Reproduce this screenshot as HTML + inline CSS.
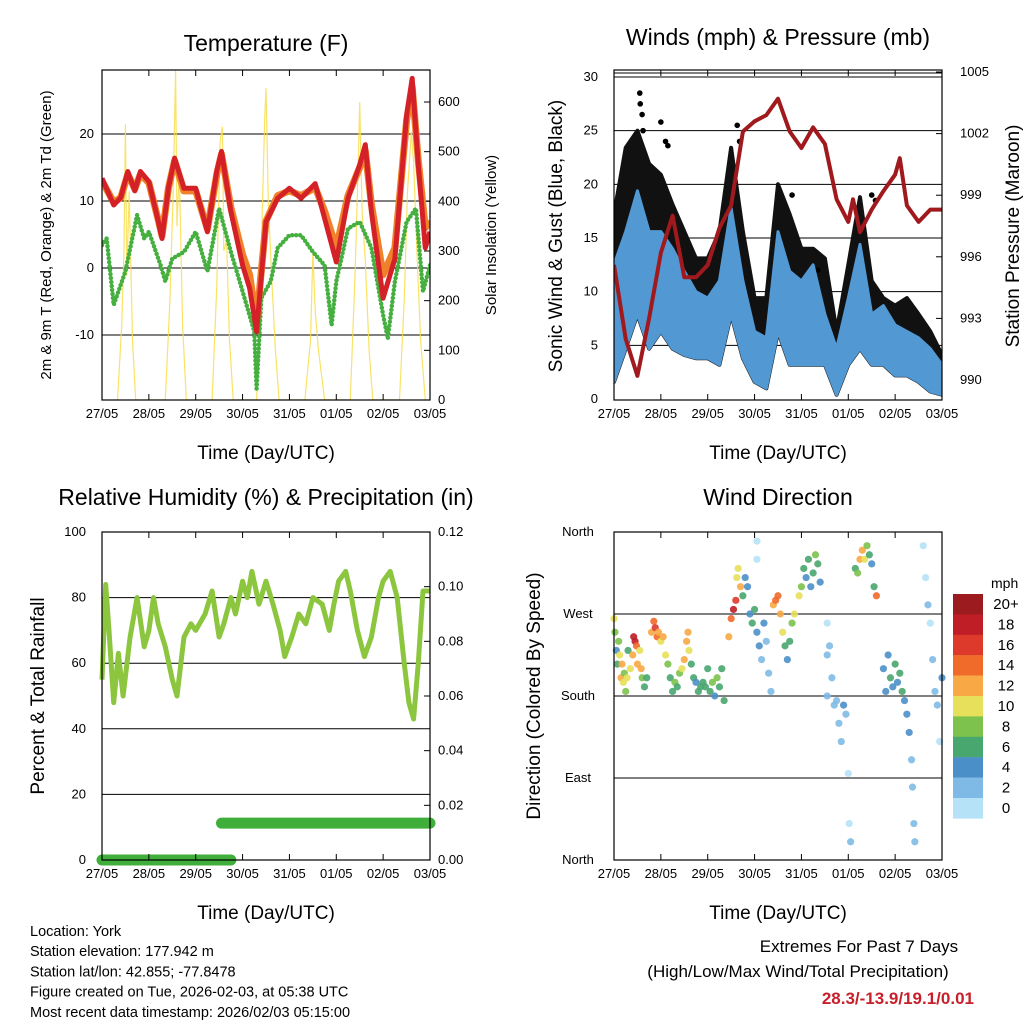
<!DOCTYPE html>
<html><head><meta charset="utf-8"><style>
html,body{margin:0;padding:0;background:#fff;}
svg{display:block;font-family:"Liberation Sans",sans-serif;}
</style></head><body>
<svg id="s" width="1024" height="1024" viewBox="0 0 1024 1024">
<rect width="1024" height="1024" fill="#fff"/>
</svg>
<script>
// ---------- DATA ----------
const dayLabels = ["27/05","28/05","29/05","30/05","31/05","01/05","02/05","03/05"];
// Temperature (F)
const tempTimes = [0,0.25,0.4,0.55,0.7,0.82,1.0,1.2,1.28,1.42,1.55,1.75,2.0,2.25,2.45,2.55,2.75,3.0,3.15,3.3,3.5,3.75,4.0,4.25,4.55,4.75,5.0,5.25,5.5,5.62,5.75,6.0,6.25,6.5,6.62,6.75,6.9,7.0];
const tempRed = [13.4,9.4,10.5,14.4,11.5,14.4,12.9,7,4.4,12,16.4,11.9,11.9,5.4,14.5,17.4,8.4,0.4,-3,-9.5,6.9,10.4,11.9,10.4,12.6,7.4,0.9,10.4,15.4,18.4,8.4,-4.5,1.4,22.8,28.3,15.4,3,5.4];
const tempOrange = [13,9.8,10.5,14,11.8,14,12.7,7.2,4.8,12,16,11.5,11.5,5.8,14,17,9,2,-1,-8,7,10.8,11.5,10.8,12,8.5,3,10.8,15,17.5,9.5,-1,3,22,27,16,6,7];
const dewTimes = [0,0.1,0.25,0.5,0.75,0.9,1.0,1.25,1.35,1.5,1.75,2.0,2.25,2.5,2.75,3.0,3.25,3.3,3.4,3.6,3.75,4.0,4.25,4.5,4.75,4.9,5.0,5.25,5.5,5.75,6.0,6.1,6.25,6.5,6.7,6.85,7.0];
const dewGreen = [3.4,4.4,-5.5,-0.5,7.9,4.4,5.4,0.4,-2,1.4,2.4,5.4,-0.5,8.9,2.4,-3.5,-9.5,-18,-4.5,-2,3,4.9,4.9,2.4,0.4,-8.5,-2,5.9,6.9,3,-7,-10.5,-2,6.9,8.9,-3.5,0.4];
// Solar insolation (W/m2)
const solarTimes = [0.33,0.42,0.47,0.5,0.53,0.58,0.65,0.72,1.35,1.45,1.52,1.57,1.6,1.65,1.72,1.8,2.35,2.45,2.52,2.57,2.6,2.66,2.72,2.8,3.3,3.4,3.47,3.5,3.55,3.62,3.7,3.78,4.33,4.45,4.5,4.55,4.62,4.75,5.3,5.4,5.47,5.5,5.55,5.62,5.7,5.78,6.35,6.45,6.52,6.6,6.65,6.72,6.8,6.9];
const solarVals = [0,150,300,555,250,420,120,0,0,200,420,665,350,460,150,0,0,230,520,550,300,320,120,0,0,300,560,628,400,250,100,0,0,120,300,180,100,0,0,250,480,600,380,280,100,0,0,200,420,540,480,300,120,0];
// Winds (mph) and pressure (mb)
const windTimes = [0,0.25,0.5,0.75,1.0,1.25,1.5,1.75,2.0,2.25,2.5,2.75,3.0,3.25,3.5,3.75,4.0,4.25,4.5,4.75,5.0,5.25,5.5,5.75,6.0,6.25,6.5,6.75,7.0];
const windHi = [12.5,15.6,19.4,15.6,15.6,14,11.9,10,9.4,11,17.8,11,6.3,5.7,15.6,11.9,11,12.5,7.9,4.7,9.4,14.4,7.9,8.7,6.9,6.3,5.7,4.7,3.2];
const windLo = [1.6,4.7,7.9,4.7,6.3,4.7,4.1,3.8,3.8,3.2,7.9,3.8,1.6,1,6.3,3.2,3.2,3.2,3.2,0.4,3.2,4.7,3.2,3.2,2.2,2.2,1.6,0.7,0.4];
const gustHi = [17.2,23.4,25,21.9,20.9,18.1,15.6,13.1,13.1,15.6,23.4,15.6,9.4,9.4,20,17.2,14,14,13.1,6.3,12.5,18.8,11,9.4,8.7,9.4,7.9,6.3,4.1];
const gustOutT = [0.55,0.56,0.6,0.62,1.0,1.1,1.15,2.63,2.68,3.8,4.35,5.5,5.58];
const gustOutV = [28.5,27.5,26.5,25,25.8,24,23.6,25.5,24,19,12,19,18.5];
const presTimes = [0,0.25,0.5,0.75,1.0,1.25,1.5,1.75,2.0,2.25,2.5,2.75,3.0,3.25,3.5,3.75,4.0,4.25,4.5,4.75,5.0,5.1,5.25,5.5,5.75,6.0,6.1,6.25,6.5,6.75,7.0];
const presVals = [995.6,992.0,990.2,993.0,996.2,998.0,995.0,995.0,995.6,997.4,998.5,1002.1,1002.6,1002.9,1003.7,1002.1,1001.3,1002.3,1001.5,998.8,997.7,998.8,997.2,998.3,999.2,1000.0,1000.8,998.5,997.7,998.3,998.3];
// Relative humidity & precipitation
const rhTimes = [0,0.08,0.15,0.25,0.35,0.45,0.6,0.75,0.9,1.0,1.1,1.2,1.35,1.5,1.6,1.75,1.9,2.0,2.2,2.35,2.5,2.6,2.75,2.85,3.0,3.1,3.2,3.35,3.5,3.65,3.8,3.9,4.05,4.2,4.35,4.5,4.7,4.85,4.95,5.05,5.2,5.3,5.45,5.6,5.75,5.9,6.0,6.15,6.3,6.45,6.55,6.65,6.75,6.85,7.0];
const rhVals = [55,84,70,48,63,50,68,80,65,70,80,72,65,55,50,68,72,70,75,82,68,72,80,75,85,80,88,78,85,78,70,62,68,75,72,80,78,70,78,85,88,82,70,62,68,80,85,88,80,60,48,43,60,82,82];
const precipTimes = [0,2.75,2.55,7.0];
const precipVals = [0,0,0.0135,0.0135];
// Wind direction (deg) colored by speed (mph)
const dirTimes = [0,0.02,0.05,0.07,0.1,0.12,0.15,0.17,0.2,0.22,0.25,0.28,0.3,0.35,0.4,0.42,0.45,0.48,0.5,0.55,0.58,0.6,0.65,0.7,0.8,0.85,0.88,0.92,0.95,1.0,1.05,1.1,1.15,1.2,1.25,1.3,1.35,1.4,1.45,1.5,1.55,1.58,1.6,1.65,1.7,1.75,1.8,1.85,1.9,1.95,2.0,2.05,2.1,2.15,2.2,2.25,2.3,2.35,2.45,2.5,2.55,2.6,2.62,2.65,2.7,2.75,2.8,2.85,2.9,2.95,3.0,3.05,3.1,3.15,3.2,3.25,3.3,3.35,3.4,3.45,3.5,3.55,3.6,3.65,3.7,3.75,3.8,3.85,3.95,4.0,4.05,4.1,4.15,4.2,4.25,4.3,4.35,4.4,4.55,4.6,4.65,4.7,4.75,4.8,4.85,4.9,4.95,5.0,5.02,5.05,5.15,5.2,5.25,5.3,5.35,5.4,5.45,5.5,5.55,5.6,5.75,5.8,5.85,5.9,5.95,6.0,6.05,6.1,6.15,6.2,6.25,6.3,6.35,6.37,6.4,6.42,6.6,6.65,6.7,6.75,6.8,6.85,6.9,6.95,7.0,3.05,3.05,4.55,4.55];
const dirVals = [265,250,230,215,240,225,200,215,195,205,185,200,230,210,225,245,240,235,215,230,210,200,190,200,250,262,255,245,250,240,245,225,215,200,185,195,190,205,210,220,240,250,230,215,200,195,185,190,195,190,210,185,195,180,200,190,210,175,245,265,275,285,310,320,300,290,310,300,270,260,275,250,235,220,260,240,205,185,280,285,290,270,250,235,220,240,260,270,290,300,320,310,330,300,315,335,325,305,225,235,200,170,175,150,130,170,160,95,40,20,320,315,330,340,330,345,335,325,300,290,210,185,225,200,190,215,195,205,185,175,160,140,110,80,40,20,345,310,280,260,220,185,170,130,200,350,330,180,260];
const dirSpeeds = [10,8,4,6,8,10,12,12,10,9,8,10,6,10,12,18,18,14,12,11,12,8,6,7,12,14,16,14,12,11,12,10,8,6,7,8,6,8,10,12,12,12,10,7,6,5,6,6,7,6,7,6,8,5,8,7,7,7,12,15,18,16,10,11,13,7,5,4,4,6,6,4,4,2,4,3,2,2,12,14,14,12,10,7,4,6,8,10,10,8,6,4,7,5,6,8,7,4,3,2,2,2,3,2,2,4,3,1,1,2,6,8,12,13,10,9,7,5,6,14,4,4,4,6,4,6,5,6,6,4,5,4,2,2,2,2,0,1,2,1,2,3,2,1,4,1,1,3,1];
const cbLabels = ["20+","18","16","14","12","10","8","6","4","2","0"];
const cbColors = ["#9b1b1e","#bf1e26","#de3a2c","#f06a2a","#f8a845","#e7e05a","#7cc24d","#48a66f","#4b8fc8","#7fbae6","#b5e2f7"];

// ---------- HELPERS ----------
const NS="http://www.w3.org/2000/svg";
const svg=document.getElementById("s");
function mk(tag,attrs,parent,text){const e=document.createElementNS(NS,tag);for(const k in attrs)e.setAttribute(k,attrs[k]);if(text!==undefined)e.textContent=text;(parent||svg).appendChild(e);return e;}
function lin(d0,d1,p0,p1){return v=>p0+(v-d0)*(p1-p0)/(d1-d0);}
function pts(ts,vs,fx,fy){return ts.map((t,i)=>fx(t).toFixed(1)+","+fy(vs[i]).toFixed(1)).join(" ");}

function frame(g,x0,x1,y0,y1,fx,name){
  // x ticks and labels
  dayLabels.forEach((lab,i)=>{
    const x=fx(i);
    mk("line",{x1:x,x2:x,y1:y1,y2:y1-6,stroke:"#000","stroke-width":1},g);
    mk("line",{x1:x,x2:x,y1:y0,y2:y0+6,stroke:"#000","stroke-width":1},g);
    const t=mk("text",{x:x,y:y1+18,"font-size":13,"text-anchor":"middle"},g,lab);
    
    
  });
}

// ---------- PANEL 1: TEMPERATURE ----------
(function(){
  const x0=102,x1=430,y0=70,y1=400;
  const g=mk("g",{});
  
  
  const fx=lin(0,7,x0,x1), fy=lin(0,20,268,134), fs=lin(0,600,400,102);
  [20,10,0,-10].forEach(v=>{
    mk("line",{x1:x0,x2:x1,y1:fy(v),y2:fy(v),stroke:"#000","stroke-width":1},g);
    const t=mk("text",{x:x0-8,y:fy(v)+4,"font-size":13,"text-anchor":"end"},g,v);
    
    
  });
  [0,100,200,300,400,500,600].forEach(v=>{
    mk("line",{x1:x1,x2:x1-6,y1:fs(v),y2:fs(v),stroke:"#000"},g);
    const t=mk("text",{x:x1+8,y:fs(v)+4,"font-size":13},g,v);
    
    
  });
  const clip=mk("clipPath",{id:"c1"},g);mk("rect",{x:x0,y:y0,width:x1-x0,height:y1-y0},clip);
  const pg=mk("g",{"clip-path":"url(#c1)"},g);
  const sol=mk("polyline",{points:pts(solarTimes,solarVals,fx,fs),fill:"none",stroke:"#f8dd4a","stroke-width":1.2,opacity:0.85},pg);
  
  
  const dew=mk("polyline",{points:pts(dewTimes,dewGreen,fx,fy),fill:"none",stroke:"#45b03f","stroke-width":4.5,"stroke-dasharray":"0 4","stroke-linecap":"round","stroke-linejoin":"round"},pg);
  
  
  const or=mk("polyline",{points:pts(tempTimes,tempOrange,fx,fy),fill:"none",stroke:"#f0812a","stroke-width":7,"stroke-linejoin":"round"},pg);
  
  
  const rd=mk("polyline",{points:pts(tempTimes,tempRed,fx,fy),fill:"none",stroke:"#d42128","stroke-width":5,"stroke-linejoin":"round"},pg);
  
  
  mk("rect",{x:x0,y:y0,width:x1-x0,height:y1-y0,fill:"none",stroke:"#000","stroke-width":1.2},g);
  frame(g,x0,x1,y0,y1,fx);
  const tt=mk("text",{x:266,y:51,"font-size":23,"text-anchor":"middle"},g,"Temperature (F)");
  
  const xl=mk("text",{x:266,y:459,"font-size":19,"text-anchor":"middle"},g,"Time (Day/UTC)");
  
  const yl=mk("text",{x:0,y:0,"font-size":15,"text-anchor":"middle",transform:"translate(51,235) rotate(-90)"},g,"2m & 9m T (Red, Orange) & 2m Td (Green)");
  
  const yr=mk("text",{x:0,y:0,"font-size":15,"text-anchor":"middle",transform:"translate(496,235) rotate(-90)"},g,"Solar Insolation (Yellow)");
  
})();

// ---------- PANEL 2: WINDS ----------
(function(){
  const x0=614,x1=942,y0=70,y1=400;
  const g=mk("g",{});
  
  
  const fx=lin(0,7,x0,x1), fy=lin(0,30,399,77), fp=lin(990,1005,380,72);
  [0,5,10,15,20,25,30].forEach(v=>{
    if(v>0)mk("line",{x1:x0,x2:x1,y1:fy(v),y2:fy(v),stroke:"#000","stroke-width":1},g);
    const t=mk("text",{x:x0-16,y:fy(v)+4,"font-size":13,"text-anchor":"end"},g,v);
    
    
  });
  mk("line",{x1:x0,x2:x1,y1:73,y2:73,stroke:"#000","stroke-width":1},g);
  [990,993,996,999,1002,1005].forEach(v=>{
    mk("line",{x1:x1,x2:x1-6,y1:fp(v),y2:fp(v),stroke:"#000"},g);
    const t=mk("text",{x:x1+18,y:fp(v)+4,"font-size":13},g,v);
    
    
  });
  const clip=mk("clipPath",{id:"c2"},g);mk("rect",{x:x0,y:y0,width:x1-x0,height:y1-y0},clip);
  const pg=mk("g",{"clip-path":"url(#c2)"},g);
  const gp=pts(windTimes,gustHi,fx,fy)+" "+pts(windTimes.slice().reverse(),windLo.slice().reverse(),fx,fy);
  const gust=mk("polygon",{points:gp,fill:"#111",stroke:"#111","stroke-width":4,"stroke-linejoin":"round"},pg);
  
  
  gustOutT.forEach((t,i)=>{
    const c=mk("circle",{cx:fx(t),cy:fy(gustOutV[i]),r:2.8,fill:"#000"},pg);
    
    
  });
  const wp=pts(windTimes,windHi,fx,fy)+" "+pts(windTimes.slice().reverse(),windLo.slice().reverse(),fx,fy);
  const wind=mk("polygon",{points:wp,fill:"#5298d3",stroke:"#5298d3","stroke-width":3,"stroke-linejoin":"round"},pg);
  
  
  const pr=mk("polyline",{points:pts(presTimes,presVals,fx,fp),fill:"none",stroke:"#a01a1d","stroke-width":4,"stroke-linejoin":"round"},pg);
  
  
  mk("rect",{x:x0,y:y0,width:x1-x0,height:y1-y0,fill:"none",stroke:"#000","stroke-width":1.2},g);
  frame(g,x0,x1,y0,y1,fx);
  const tt=mk("text",{x:778,y:45,"font-size":23,"text-anchor":"middle"},g,"Winds (mph) & Pressure (mb)");
  
  const xl=mk("text",{x:778,y:459,"font-size":19,"text-anchor":"middle"},g,"Time (Day/UTC)");
  
  const yl=mk("text",{x:0,y:0,"font-size":19,"text-anchor":"middle",transform:"translate(562,236) rotate(-90)"},g,"Sonic Wind & Gust (Blue, Black)");
  
  const yr=mk("text",{x:0,y:0,"font-size":19,"text-anchor":"middle",transform:"translate(1019,236) rotate(-90)"},g,"Station Pressure (Maroon)");
  
})();

// ---------- PANEL 3: RH ----------
(function(){
  const x0=102,x1=430,y0=532,y1=860;
  const g=mk("g",{});
  
  
  const fx=lin(0,7,x0,x1), fy=lin(0,100,860,532), fr=lin(0,0.12,860,532);
  [0,20,40,60,80,100].forEach(v=>{
    if(v>0&&v<100)mk("line",{x1:x0,x2:x1,y1:fy(v),y2:fy(v),stroke:"#000","stroke-width":1},g);
    const t=mk("text",{x:x0-16,y:fy(v)+4,"font-size":13,"text-anchor":"end"},g,v);
    
    
  });
  [0,0.02,0.04,0.06,0.08,0.10,0.12].forEach(v=>{
    mk("line",{x1:x1,x2:x1-6,y1:fr(v),y2:fr(v),stroke:"#000"},g);
    const t=mk("text",{x:x1+8,y:fr(v)+4,"font-size":13},g,v.toFixed(2));
    
    
  });
  const rh=mk("polyline",{points:pts(rhTimes,rhVals,fx,fy),fill:"none",stroke:"#8cc63f","stroke-width":5,"stroke-linejoin":"round"},g);
  
  
  for(let i=0;i<precipTimes.length;i+=2){
    const p=mk("line",{x1:fx(precipTimes[i]),x2:fx(precipTimes[i+1]),y1:fr(precipVals[i]),y2:fr(precipVals[i+1]),stroke:"#3fae3a","stroke-width":11,"stroke-linecap":"round"},g);
    
    
  }
  mk("rect",{x:x0,y:y0,width:x1-x0,height:y1-y0,fill:"none",stroke:"#000","stroke-width":1.2},g);
  frame(g,x0,x1,y0,y1,fx);
  const tt=mk("text",{x:266,y:505,"font-size":23,"text-anchor":"middle"},g,"Relative Humidity (%) & Precipitation (in)");
  
  const xl=mk("text",{x:266,y:919,"font-size":19,"text-anchor":"middle"},g,"Time (Day/UTC)");
  
  const yl=mk("text",{x:0,y:0,"font-size":19,"text-anchor":"middle",transform:"translate(44,696) rotate(-90)"},g,"Percent & Total Rainfall");
  
})();

// ---------- PANEL 4: WIND DIRECTION ----------
(function(){
  const x0=614,x1=942,y0=532,y1=860;
  const g=mk("g",{});
  
  
  const fx=lin(0,7,x0,x1), fy=lin(0,360,860,532);
  [["North",0],["East",90],["South",180],["West",270],["North",360]].forEach(([lab,v])=>{
    if(v>0&&v<360)mk("line",{x1:x0,x2:x1,y1:fy(v),y2:fy(v),stroke:"#000","stroke-width":1},g);
    const t=mk("text",{x:578,y:fy(v)+4,"font-size":13,"text-anchor":"middle"},g,lab);
    
    
  });
  function col(s){let i=Math.floor(s/2);if(i>10)i=10;return cbColors[10-i];}
  dirTimes.forEach((t,i)=>{
    const c=mk("circle",{cx:fx(t),cy:fy(dirVals[i]),r:3.6,fill:col(dirSpeeds[i]),opacity:0.9},g);
    
    
  });
  mk("rect",{x:x0,y:y0,width:x1-x0,height:y1-y0,fill:"none",stroke:"#000","stroke-width":1.2},g);
  frame(g,x0,x1,y0,y1,fx);
  const tt=mk("text",{x:778,y:505,"font-size":23,"text-anchor":"middle"},g,"Wind Direction");
  
  const xl=mk("text",{x:778,y:919,"font-size":19,"text-anchor":"middle"},g,"Time (Day/UTC)");
  
  const yl=mk("text",{x:0,y:0,"font-size":19,"text-anchor":"middle",transform:"translate(540,696) rotate(-90)"},g,"Direction (Colored By Speed)");
  
  // colorbar
  const cb=mk("g",{},g);
  
  
  const cbT=mk("text",{x:991,y:588,"font-size":14},cb,"mph");
  
  cbColors.forEach((c,i)=>{
    const r=mk("rect",{x:953,y:594+i*20.4,width:30,height:20.6,fill:c},cb);
    
    
    const t=mk("text",{x:1006,y:609+i*20.4,"font-size":15,"text-anchor":"middle"},cb,cbLabels[i]);
    
    
  });
})();

// ---------- FOOTER TEXT ----------
(function(){
  const info=["Location: York","Station elevation: 177.942 m","Station lat/lon: 42.855; -77.8478","Figure created on Tue, 2026-02-03, at 05:38 UTC","Most recent data timestamp: 2026/02/03 05:15:00"];
  info.forEach((s,i)=>{
    const t=mk("text",{x:30,y:936+i*20.2,"font-size":14.5},svg,s);
    
    
  });
  const a=mk("text",{x:859,y:952,"font-size":17,"text-anchor":"middle"},svg,"Extremes For Past 7 Days");
  
  const b=mk("text",{x:798,y:977,"font-size":17,"text-anchor":"middle"},svg,"(High/Low/Max Wind/Total Precipitation)");
  
  const c=mk("text",{x:974,y:1004,"font-size":17,"font-weight":"bold",fill:"#c8202b","text-anchor":"end"},svg,"28.3/-13.9/19.1/0.01");
  
})();
</script>
</body></html>
